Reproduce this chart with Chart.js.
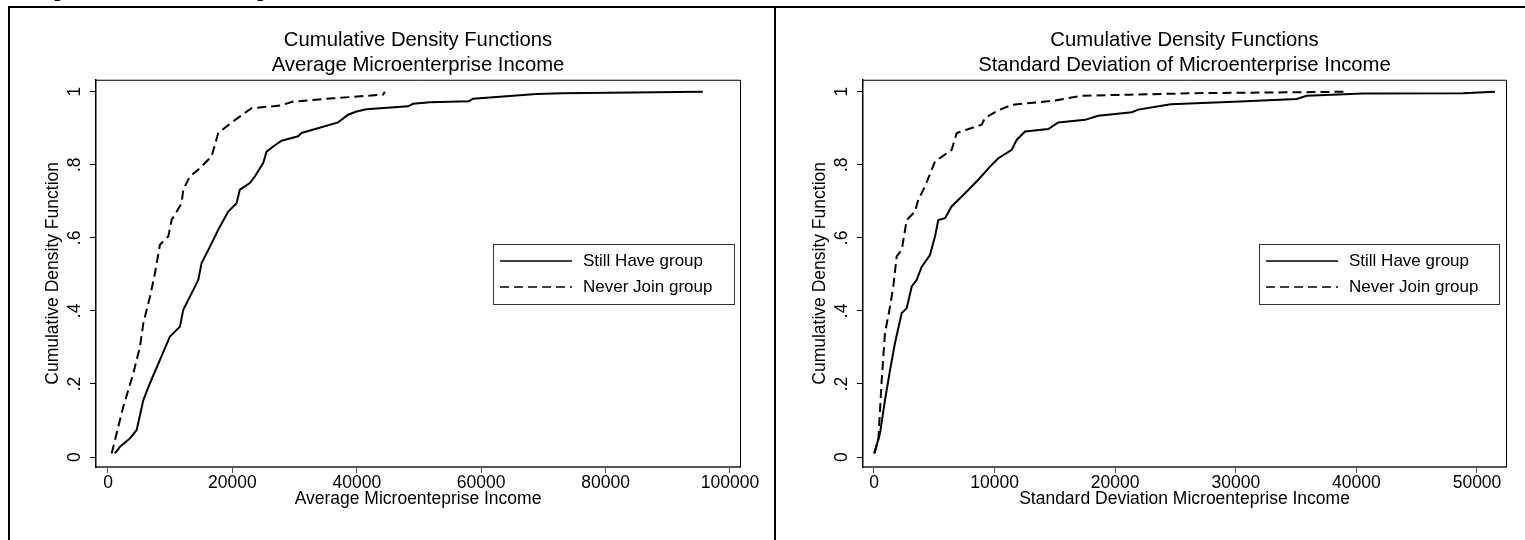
<!DOCTYPE html>
<html>
<head>
<meta charset="utf-8">
<script src="https://cdn.jsdelivr.net/npm/chart.js@4.4.1/dist/chart.umd.min.js"></script>
<style>
  body { margin: 0; background: #fff; width: 1525px; height: 540px; overflow: hidden; position: relative; }
  #pageTitle { position: absolute; left: 18px; top: -21px; font: bold 21px/21px "Liberation Serif", "Times New Roman", serif; white-space: nowrap; color: #000; }
  #frame { position: absolute; left: 8px; top: 6px; width: 1520px; height: 600px; border: 2px solid #000; pointer-events: none; }
  #divider { position: absolute; left: 774px; top: 6px; width: 2px; height: 600px; background: #000; pointer-events: none; }
  .panel { position: absolute; top: 0; }
</style>
</head>
<body>
<div id="pageTitle">Graph 4: Total Microenterprise Income</div>
<div class="panel" style="left:0px"><canvas id="leftChart" width="775" height="540"></canvas></div>
<div class="panel" style="left:775px"><canvas id="rightChart" width="750" height="540"></canvas></div>
<div id="frame"></div>
<div id="divider"></div>
<script>
// Series labels
const seriesLabels = ['Still Have group', 'Never Join group'];

// Left panel: average microenterprise income
const leftStillX = [1120, 1930, 3530, 4610, 5680, 6750, 8350, 9960, 11570, 12100, 13170, 14510, 15050, 16390, 17720, 19330, 20670, 21200, 22810, 23610, 24950, 25490, 26560, 27900, 30570, 31110, 37000, 38600, 39950, 41560, 48250, 49050, 51730, 58000, 58700, 68870, 73000, 95630];
const leftStillY = [0.010, 0.028, 0.051, 0.074, 0.156, 0.202, 0.266, 0.330, 0.357, 0.403, 0.439, 0.485, 0.531, 0.576, 0.622, 0.672, 0.695, 0.732, 0.750, 0.768, 0.805, 0.836, 0.850, 0.866, 0.878, 0.887, 0.916, 0.937, 0.946, 0.952, 0.960, 0.967, 0.971, 0.974, 0.981, 0.994, 0.996, 1.0];
const leftNeverX = [590, 2460, 4070, 5140, 5680, 6750, 7550, 8350, 9690, 10230, 11840, 12100, 13170, 14780, 16660, 17720, 20130, 23080, 27630, 29770, 36200, 44230, 44500];
const leftNeverY = [0.010, 0.138, 0.229, 0.302, 0.366, 0.439, 0.503, 0.581, 0.604, 0.649, 0.695, 0.732, 0.768, 0.791, 0.823, 0.887, 0.919, 0.955, 0.962, 0.973, 0.982, 0.992, 1.0];
const leftXTicks = [0, 20000, 40000, 60000, 80000, 100000];

// Right panel: standard deviation of microenterprise income
const rightStillX = [25, 500, 910, 1330, 1740, 2300, 2710, 3130, 3540, 3960, 4640, 5060, 5330, 5890, 6440, 7550, 8650, 9620, 10310, 11420, 11830, 12520, 14450, 15280, 17500, 18600, 21370, 21920, 24600, 30350, 35050, 35880, 40550, 48840, 51490];
const rightStillY = [0.010, 0.065, 0.156, 0.238, 0.312, 0.394, 0.407, 0.467, 0.485, 0.521, 0.553, 0.604, 0.649, 0.654, 0.686, 0.722, 0.759, 0.795, 0.818, 0.841, 0.868, 0.891, 0.898, 0.916, 0.923, 0.934, 0.944, 0.951, 0.966, 0.973, 0.980, 0.989, 0.995, 0.996, 1.0];
const rightNeverX = [25, 360, 640, 910, 1330, 1600, 1880, 2300, 2710, 3400, 3670, 4230, 5060, 6440, 6860, 8930, 9200, 10310, 11420, 15010, 17220, 21230, 26620, 39300];
const rightNeverY = [0.010, 0.047, 0.211, 0.339, 0.412, 0.467, 0.549, 0.567, 0.649, 0.672, 0.704, 0.741, 0.809, 0.841, 0.887, 0.910, 0.928, 0.949, 0.964, 0.976, 0.989, 0.992, 0.996, 1.0];
const rightXTicks = [0, 10000, 20000, 30000, 40000, 50000];

// Shared y axis ticks
const yTicks = [0, 0.2, 0.4, 0.6, 0.8, 1];
const yTickLabels = ['0', '.2', '.4', '.6', '.8', '1'];

const FONT = 'Arial, "Liberation Sans", sans-serif';

function toPoints(xs, ys) {
    return xs.map((x, i) => ({ x: x, y: ys[i] }));
}

// draws the top/right edges of the plot region and the boxed legend
const stataFrame = {
    id: 'stataFrame',
    afterDraw(chart, args, opts) {
        const ctx = chart.ctx;
        const area = chart.chartArea;
        ctx.save();
        ctx.strokeStyle = '#000';
        ctx.lineWidth = 1;
        ctx.beginPath();
        ctx.moveTo(area.left, area.top + 0.5);
        ctx.lineTo(area.right + 0.5, area.top + 0.5);
        ctx.lineTo(area.right + 0.5, area.bottom);
        ctx.stroke();

        const x0 = Math.round(area.right - opts.right - opts.width);
        const y0 = Math.round(area.top + opts.top);
        ctx.strokeStyle = '#333';
        ctx.strokeRect(x0 + 0.5, y0 + 0.5, opts.width, opts.height);

        ctx.font = opts.fontSize + 'px ' + FONT;
        ctx.fillStyle = '#000';
        ctx.textBaseline = 'middle';
        chart.data.datasets.forEach((ds, i) => {
            const y = y0 + opts.firstRow + i * opts.rowGap;
            ctx.strokeStyle = '#000';
            ctx.lineWidth = 1.6;
            ctx.setLineDash(ds.borderDash || []);
            ctx.beginPath();
            ctx.moveTo(x0 + opts.sampleLeft, y);
            ctx.lineTo(x0 + opts.sampleLeft + opts.sampleLen, y);
            ctx.stroke();
            ctx.setLineDash([]);
            ctx.fillText(ds.label, x0 + opts.textLeft, y);
        });
        ctx.restore();
    }
};

function makeChart(id, cfg) {
    return new Chart(document.getElementById(id), {
        type: 'scatter',
        data: {
            datasets: [
                {
                    label: seriesLabels[0],
                    data: toPoints(cfg.stillX, cfg.stillY),
                    showLine: true,
                    borderColor: '#000',
                    borderWidth: 2,
                    pointRadius: 0,
                    tension: 0
                },
                {
                    label: seriesLabels[1],
                    data: toPoints(cfg.neverX, cfg.neverY),
                    showLine: true,
                    borderColor: '#000',
                    borderWidth: 2,
                    borderDash: [9, 5],
                    pointRadius: 0,
                    tension: 0
                }
            ]
        },
        options: {
            responsive: false,
            animation: false,
            layout: { padding: { left: cfg.padLeft, right: cfg.padRight, top: 20, bottom: 30 } },
            plugins: {
                legend: { display: false },
                tooltip: { enabled: false },
                title: {
                    display: true,
                    text: cfg.title,
                    fullSize: false,
                    color: '#000',
                    font: { family: FONT, size: 20.3, weight: 'normal', lineHeight: 1.25 },
                    padding: { top: 7.5, bottom: 1.5 }
                },
                stataFrame: {
                    width: cfg.legendWidth, height: 60, right: cfg.legendRight, top: 164,
                    firstRow: 17, rowGap: 26, sampleLeft: 7, sampleLen: 72, textLeft: 90, fontSize: 17
                }
            },
            scales: {
                x: {
                    type: 'linear',
                    position: 'bottom',
                    min: cfg.xMin,
                    max: cfg.xMax,
                    afterBuildTicks: s => { s.ticks = cfg.xTicks.map(v => ({ value: v })); },
                    afterFit: s => { s.height = 43; },
                    grid: { display: true, drawOnChartArea: false, drawTicks: true, tickLength: 6, color: '#555', tickWidth: 1 },
                    border: { display: true, color: '#555', width: 2 },
                    ticks: { color: '#000', padding: 0, maxRotation: 0, font: { family: FONT, size: 17.5 }, callback: v => String(v) },
                    title: { display: true, text: cfg.xTitle, color: '#000', font: { family: FONT, size: 17.5 }, padding: { top: 0, bottom: 0 } }
                },
                y: {
                    type: 'linear',
                    min: -0.0273,
                    max: 1.0328,
                    afterBuildTicks: s => { s.ticks = yTicks.map(v => ({ value: v })); },
                    afterFit: s => { s.width = 66; },
                    grid: { display: true, drawOnChartArea: false, drawTicks: true, tickLength: 6, color: '#000', tickWidth: 1 },
                    border: { display: true, color: '#000', width: 1.5 },
                    ticks: {
                        color: '#000', minRotation: 90, maxRotation: 90, crossAlign: 'center', padding: 7.7,
                        font: { family: FONT, size: 17.5 },
                        callback: (v, i) => yTickLabels[i]
                    },
                    title: { display: true, text: 'Cumulative Density Function', color: '#000', font: { family: FONT, size: 17.5 }, padding: { top: 12.5, bottom: 0 } }
                }
            }
        },
        plugins: [stataFrame]
    });
}

makeChart('leftChart', {
    stillX: leftStillX, stillY: leftStillY, neverX: leftNeverX, neverY: leftNeverY,
    xTicks: leftXTicks, xMin: -1929, xMax: 101608,
    title: ['Cumulative Density Functions', 'Average Microenterprise Income'],
    xTitle: 'Average Microenteprise Income',
    padLeft: 30, padRight: 35, legendWidth: 241, legendRight: 6
});

makeChart('rightChart', {
    stillX: rightStillX, stillY: rightStillY, neverX: rightNeverX, neverY: rightNeverY,
    xTicks: rightXTicks, xMin: -912, xMax: 52405,
    title: ['Cumulative Density Functions', 'Standard Deviation of Microenterprise Income'],
    xTitle: 'Standard Deviation Microenteprise Income',
    padLeft: 22, padRight: 19, legendWidth: 240, legendRight: 7
});
</script>
</body>
</html>
